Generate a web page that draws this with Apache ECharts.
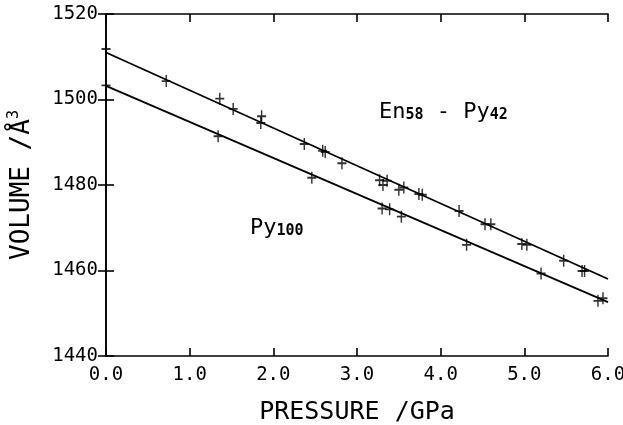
<!doctype html>
<html lang="en">
  <head>
    <meta charset="utf-8">
    <title>Volume vs Pressure</title>
    <script src="https://cdn.jsdelivr.net/npm/echarts@6.0.0/dist/echarts.min.js"></script>
    <style>
      html, body {
        width: 100%;
        height: 100%;
        margin: 0;
        background: #fff;
      }

      #chart {
        width: 623px;
        height: 425px;
      }
    </style>
  </head>
  <body>
    <div id="chart"></div>
    <script>
      // En58-Py42 measurements
      const enPressure = [0.0, 0.72, 1.36, 1.52, 1.86, 1.85, 2.37, 2.59, 2.62, 2.82, 3.27, 3.31, 3.36, 3.50, 3.56, 3.74, 3.78, 4.22, 4.53, 4.60, 4.97, 5.03, 5.47, 5.69, 5.72];
      const enVolume = [1511.8, 1504.3, 1500.2, 1497.8, 1496.1, 1494.5, 1489.6, 1488.0, 1487.7, 1485.1, 1481.1, 1480.0, 1481.0, 1478.9, 1479.4, 1477.9, 1477.7, 1473.9, 1470.8, 1470.8, 1466.2, 1466.0, 1462.3, 1459.9, 1459.9];

      // Py100 measurements
      const pyPressure = [0.0, 1.34, 2.46, 3.30, 3.39, 3.53, 4.31, 5.20, 5.88, 5.94];
      const pyVolume = [1503.3, 1491.4, 1481.7, 1474.5, 1474.3, 1472.6, 1466.0, 1459.3, 1452.9, 1453.5];

      // fitted lines (value at P = 0 and P = 6)
      const fitPressure = [0, 6];
      const enFit = [1511.0, 1458.0];
      const pyFit = [1503.2, 1452.6];

      const xTicks = [0, 1, 2, 3, 4, 5, 6];
      const yTicks = [1440, 1460, 1480, 1500, 1520];

      const zip = (a, b) => a.map((v, i) => [v, b[i]]);

      const plus = 'path://M4.2,0 H5.8 V4.2 H10 V5.8 H5.8 V10 H4.2 V5.8 H0 V4.2 H4.2 Z';
      const mono = 'DejaVu Sans Mono';

      let chart = echarts.init(document.getElementById('chart'), null, {renderer: 'canvas'});

      let axisLine = { show: true, lineStyle: { color: '#000', width: 1.6 } };
      let axisTick = { show: true, inside: true, length: 8, lineStyle: { color: '#000', width: 1.6 } };

      let labelRich = {
        m: { fontFamily: mono, fontSize: 22, lineHeight: 26, verticalAlign: 'bottom', fill: '#000' },
        s: { fontFamily: mono, fontSize: 15, fontWeight: 'bold', lineHeight: 15, verticalAlign: 'bottom', fill: '#000' }
      };

      let option = {
        animation: false,
        backgroundColor: '#fff',
        grid: { left: 106, right: 15, top: 14, bottom: 69, containLabel: false, outerBoundsMode: 'none' },
        xAxis: [
          {
            type: 'value',
            min: xTicks[0],
            max: xTicks[xTicks.length - 1],
            interval: 1,
            name: 'PRESSURE /GPa',
            nameLocation: 'middle',
            nameGap: 44,
            nameTextStyle: { fontFamily: mono, fontSize: 25, color: '#000' },
            axisLine: axisLine,
            axisTick: axisTick,
            splitLine: { show: false },
            axisLabel: {
              margin: 10,
              fontFamily: mono,
              fontSize: 19,
              color: '#000',
              formatter: (v) => v.toFixed(1)
            }
          },
          {
            type: 'value',
            position: 'top',
            min: xTicks[0],
            max: xTicks[xTicks.length - 1],
            interval: 1,
            axisLine: axisLine,
            axisTick: axisTick,
            axisLabel: { show: false },
            splitLine: { show: false }
          }
        ],
        yAxis: [
          {
            type: 'value',
            min: yTicks[0],
            max: yTicks[yTicks.length - 1],
            interval: 20,
            name: 'VOLUME /Å{sup|3}',
            nameLocation: 'middle',
            nameGap: 69,
            nameTextStyle: {
              fontFamily: mono,
              fontSize: 26,
              color: '#000',
              rich: {
                sup: { fontFamily: mono, fontSize: 15, verticalAlign: 'top', lineHeight: 30, color: '#000' }
              }
            },
            axisLine: axisLine,
            axisTick: axisTick,
            splitLine: { show: false },
            axisLabel: {
              margin: 8,
              fontFamily: mono,
              fontSize: 19,
              color: '#000',
              formatter: (v) => String(v)
            }
          },
          {
            type: 'value',
            position: 'right',
            min: yTicks[0],
            max: yTicks[yTicks.length - 1],
            interval: 20,
            axisLine: axisLine,
            axisTick: axisTick,
            axisLabel: { show: false },
            splitLine: { show: false }
          }
        ],
        graphic: [
          {
            type: 'text',
            left: 379,
            top: 101,
            style: { text: '{m|En}{s|58}{m| - Py}{s|42}', rich: labelRich }
          },
          {
            type: 'text',
            left: 250,
            top: 217,
            style: { text: '{m|Py}{s|100}', rich: labelRich }
          }
        ],
        series: [
          {
            type: 'line',
            data: zip(fitPressure, enFit),
            showSymbol: false,
            lineStyle: { color: '#000', width: 1.8 },
            silent: true
          },
          {
            type: 'line',
            data: zip(fitPressure, pyFit),
            showSymbol: false,
            lineStyle: { color: '#000', width: 1.8 },
            silent: true
          },
          {
            type: 'scatter',
            data: zip(enPressure, enVolume),
            symbol: plus,
            symbolSize: [9, 12],
            symbolKeepAspect: false,
            itemStyle: { color: '#000' }
          },
          {
            type: 'scatter',
            data: zip(pyPressure, pyVolume),
            symbol: plus,
            symbolSize: [9, 12],
            symbolKeepAspect: false,
            itemStyle: { color: '#000' }
          }
        ]
      };

      chart.setOption(option);
    </script>
  </body>
</html>
